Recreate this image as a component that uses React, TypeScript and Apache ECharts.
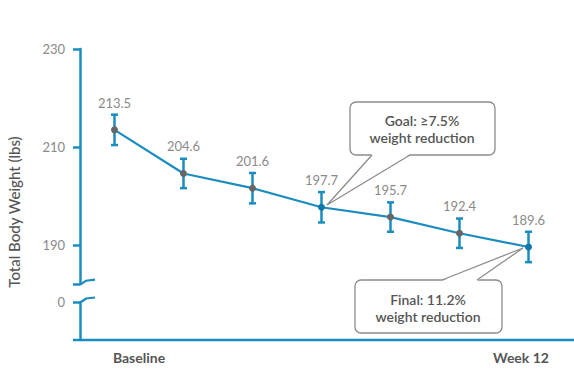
import React, { useEffect, useRef } from "react";
import * as echarts from "echarts";

const categories = ["Baseline", "Week 2", "Week 4", "Week 6", "Week 8", "Week 10", "Week 12"];
const values = [213.5, 204.6, 201.6, 197.7, 195.7, 192.4, 189.6];
const errors = [3.1, 3.0, 3.1, 3.1, 3.0, 3.0, 3.1];
const highlighted = [false, false, false, true, false, false, true];
const yTicks = [190, 210, 230];
const lowerTicks = [0];
const goalText = ["Goal: ≥7.5%", "weight reduction"];
const finalText = ["Final: 11.2%", "weight reduction"];
const yTitle = "Total Body Weight (lbs)";

const BLUE = "#1a8cbf";
const DARKBLUE = "#0f78a8";
const GRAY_DOT = "#666666";
const FONT = "Lato, 'Open Sans', sans-serif";

export default function App() {
  const ref = useRef<HTMLDivElement>(null);
  useEffect(() => {
    if (!ref.current) return;
    const chart = echarts.init(ref.current, null, { renderer: "svg" });
    const yMax = 230;
    const yMin = 182;
    const top1 = 49;
    const pxPerUnit = 4.9;
    const h1 = (yMax - yMin) * pxPerUnit;
    const top2 = 302;
    const h2 = 38;
    const lowMin = -h2 / pxPerUnit;
    const axisX = 80;

    const calloutStroke = "#8c8c8c";
    const textStyleBox = {
      fill: "#555555",
      font: `600 14px ${FONT}`,
      align: "center",
      verticalAlign: "middle",
      lineHeight: 17,
    };

    const option: any = {
      animation: false,
      backgroundColor: "#ffffff",
      grid: [
        { left: axisX, top: top1, width: 483, height: h1 },
        { left: axisX, top: top2, width: 483, height: h2 },
      ],
      xAxis: [
        {
          type: "category",
          gridIndex: 0,
          data: categories,
          boundaryGap: true,
          axisLine: { show: false },
          axisTick: { show: false },
          axisLabel: { show: false },
        },
        {
          type: "category",
          gridIndex: 1,
          data: categories,
          axisLine: { show: false },
          axisTick: { show: false },
          axisLabel: { show: false },
        },
      ],
      yAxis: [
        {
          type: "value",
          gridIndex: 0,
          min: yMin,
          max: yMax,
          splitLine: { show: false },
          axisLine: { show: true, lineStyle: { color: BLUE, width: 2.5 } },
          axisTick: {
            show: true,
            length: 7,
            customValues: [yMin, ...yTicks],
            lineStyle: { color: BLUE, width: 2.5 },
          },
          axisLabel: {
            customValues: yTicks,
            color: "#8a8a8a",
            fontSize: 13,
            fontFamily: FONT,
            margin: 15,
          },
        },
        {
          type: "value",
          gridIndex: 1,
          min: lowMin,
          max: 0,
          splitLine: { show: false },
          axisLine: { show: true, lineStyle: { color: BLUE, width: 2.5 } },
          axisTick: {
            show: true,
            length: 7,
            customValues: lowerTicks,
            lineStyle: { color: BLUE, width: 2.5 },
          },
          axisLabel: {
            customValues: lowerTicks,
            color: "#8a8a8a",
            fontSize: 13,
            fontFamily: FONT,
            margin: 15,
          },
        },
      ],
      series: [
        {
          type: "custom",
          xAxisIndex: 0,
          yAxisIndex: 0,
          z: 1,
          data: values.map((v, i) => [i, v - errors[i], v + errors[i]]),
          encode: { x: 0, y: [1, 2] },
          renderItem: (params: any, api: any) => {
            const i = api.value(0);
            const lo = api.coord([i, api.value(1)]);
            const hi = api.coord([i, api.value(2)]);
            const w = 3.5;
            const st = { stroke: BLUE, lineWidth: 2.5 };
            return {
              type: "group",
              children: [
                { type: "line", shape: { x1: hi[0], y1: hi[1], x2: lo[0], y2: lo[1] }, style: st },
                { type: "line", shape: { x1: hi[0] - w, y1: hi[1], x2: hi[0] + w, y2: hi[1] }, style: st },
                { type: "line", shape: { x1: lo[0] - w, y1: lo[1], x2: lo[0] + w, y2: lo[1] }, style: st },
              ],
            };
          },
        },
        {
          type: "line",
          xAxisIndex: 0,
          yAxisIndex: 0,
          z: 2,
          symbol: "circle",
          symbolSize: 7,
          lineStyle: { color: BLUE, width: 2.2 },
          data: values.map((v, i) => ({
            value: v,
            itemStyle: { color: highlighted[i] ? DARKBLUE : GRAY_DOT, borderWidth: 0 },
          })),
          label: {
            show: true,
            position: "top",
            distance: 17,
            color: "#8a8a8a",
            fontSize: 13,
            fontFamily: FONT,
          },
        },
      ],
      graphic: [
        {
          type: "polyline",
          z: 50,
          shape: { points: [[axisX + 1, top1 + h1], [axisX + 6, top1 + h1 - 3.5], [95, top1 + h1 - 4.5]] },
          style: { stroke: BLUE, lineWidth: 2.2, fill: null },
        },
        {
          type: "polyline",
          z: 50,
          shape: { points: [[axisX + 1, top2], [axisX + 6, top2 - 3.5], [95, top2 - 4.5]] },
          style: { stroke: BLUE, lineWidth: 2.2, fill: null },
        },
        {
          type: "line",
          z: 50,
          shape: { x1: 73, y1: top2 + h2, x2: 574, y2: top2 + h2 },
          style: { stroke: BLUE, lineWidth: 2.5 },
        },
        {
          type: "text",
          x: 14,
          y: 212,
          rotation: Math.PI / 2,
          style: {
            text: yTitle,
            fill: "#555555",
            font: `500 15px ${FONT}`,
            align: "center",
            verticalAlign: "middle",
          },
        },
        {
          type: "text",
          x: 139,
          y: 357,
          style: {
            text: categories[0],
            fill: "#555555",
            font: `700 14px ${FONT}`,
            align: "center",
            verticalAlign: "middle",
          },
        },
        {
          type: "text",
          x: 521,
          y: 357,
          style: {
            text: categories[categories.length - 1],
            fill: "#555555",
            font: `700 14px ${FONT}`,
            align: "center",
            verticalAlign: "middle",
          },
        },
        {
          type: "rect",
          z: 60,
          shape: { x: 350, y: 102, width: 145, height: 53, r: 6 },
          style: { fill: "#ffffff", stroke: calloutStroke, lineWidth: 1.3 },
        },
        {
          type: "polygon",
          z: 61,
          shape: { points: [[372, 154], [410, 154], [327, 205]] },
          style: { fill: "#ffffff", stroke: null },
        },
        {
          type: "polyline",
          z: 62,
          shape: { points: [[372, 155], [327, 205], [410, 155]] },
          style: { stroke: calloutStroke, lineWidth: 1.3, fill: null },
        },
        {
          type: "text",
          z: 63,
          x: 422,
          y: 129,
          style: { ...textStyleBox, text: goalText.join("\n") },
        },
        {
          type: "rect",
          z: 60,
          shape: { x: 355, y: 280, width: 147, height: 53, r: 6 },
          style: { fill: "#ffffff", stroke: calloutStroke, lineWidth: 1.3 },
        },
        {
          type: "polygon",
          z: 61,
          shape: { points: [[442, 281], [477, 281], [523, 248]] },
          style: { fill: "#ffffff", stroke: null },
        },
        {
          type: "polyline",
          z: 62,
          shape: { points: [[442, 280], [523, 248], [477, 280]] },
          style: { stroke: calloutStroke, lineWidth: 1.3, fill: null },
        },
        {
          type: "text",
          z: 63,
          x: 428,
          y: 308,
          style: { ...textStyleBox, text: finalText.join("\n") },
        },
      ],
    };
    chart.setOption(option);
    return () => chart.dispose();
  }, []);
  return (
    <div
      ref={ref}
      style={{ position: "fixed", left: 0, top: 0, width: 574, height: 375, background: "#fff" }}
    />
  );
}
